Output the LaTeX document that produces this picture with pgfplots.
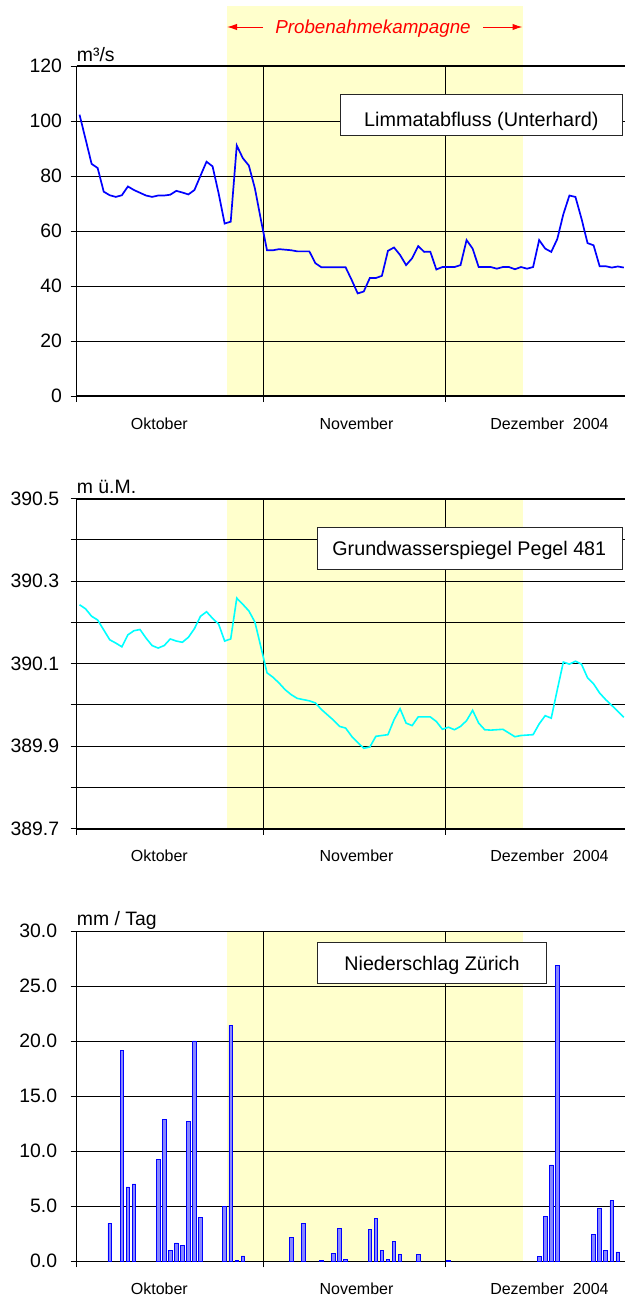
\documentclass[border=0pt]{standalone}
\usepackage{fontspec}
\setmainfont{Liberation Sans}
\usepackage{pgfplots}
\pgfplotsset{compat=1.18}
\usetikzlibrary{arrows.meta}
\definecolor{yel}{RGB}{255,255,204}
\definecolor{barfill}{RGB}{135,135,255}
\definecolor{lblue}{RGB}{0,0,255}
\definecolor{lcyan}{RGB}{0,255,255}

\pgfplotsset{
  panel/.style={
    scale only axis, width=278.2pt, height=165pt,
    xmin=0, xmax=92,
    xtick={0,31,61,92}, xticklabels={,,,},
    xmajorgrids, ymajorgrids,
    tick align=outside, major tick length=3pt,
    xtick pos=bottom, ytick pos=left,
    separate axis lines,
    x axis line style={line width=1pt},
    y axis line style={line width=0.5pt},
    major grid style={black, line width=0.5pt},
    tick style={black, line width=0.5pt},
    extra x ticks={13.7,46.3,78.2},
    extra x tick labels={Oktober,November,Dezember\ \ 2004},
    extra x tick style={major tick length=0pt, grid=none,
      xticklabel style={font=\fontsize{8}{9.6}\selectfont, yshift=-7.2pt}},
    yticklabel style={font=\fontsize{9.7}{11}\selectfont},
    /pgf/number format/assume math mode=true,
    set layers, clip=false,
  }
}

\begin{document}
\begin{tikzpicture}
% ---------- Panel 1 ----------
\begin{axis}[panel, at={(38.25pt,-198pt)}, anchor=south west,
  ymin=0, ymax=120, ytick={0,20,40,60,80,100,120},
  yticklabel style={xshift=-0.75pt}]
\addplot[on layer=axis background, fill=yel, draw=none] coordinates {(24.85,0) (24.85,141.9) (73.75,141.9) (73.75,0)};
\addplot[lblue, line width=0.85pt] coordinates {
(0.5,102.3) (1.5,93.4) (2.5,84.4) (3.5,82.9) (4.5,74.3) (5.5,73.0) (6.5,72.4) (7.5,73.0)
(8.5,76.2) (9.5,74.9) (10.5,73.9) (11.5,72.9) (12.5,72.4) (13.5,72.9) (14.5,72.9) (15.5,73.2)
(16.5,74.6) (17.5,74.0) (18.5,73.3) (19.5,74.9) (20.5,80.1) (21.5,85.2) (22.5,83.5) (23.5,73.7)
(24.5,62.7) (25.5,63.4) (26.5,91.1) (27.5,86.5) (28.5,83.8) (29.5,75.5) (30.5,64.0) (31.5,53.0)
(32.5,53.0) (33.5,53.4) (34.5,53.2) (35.5,53.0) (36.5,52.6) (37.5,52.6) (38.5,52.6) (39.5,48.3)
(40.5,46.8) (41.5,46.8) (42.5,46.8) (43.5,46.8) (44.5,46.8) (45.5,42.2) (46.5,37.3) (47.5,38.0)
(48.5,42.9) (49.5,42.9) (50.5,43.7) (51.5,52.8) (52.5,54.0) (53.5,51.3) (54.5,47.6) (55.5,50.1)
(56.5,54.5) (57.5,52.4) (58.5,52.5) (59.5,46.0) (60.5,46.9) (61.5,46.9) (62.5,46.9) (63.5,47.6)
(64.5,56.7) (65.5,53.6) (66.5,46.9) (67.5,46.9) (68.5,46.9) (69.5,46.3) (70.5,46.9) (71.5,46.9)
(72.5,46.1) (73.5,46.9) (74.5,46.3) (75.5,46.9) (76.5,56.7) (77.5,53.6) (78.5,52.4) (79.5,57.1)
(80.5,66.1) (81.5,72.9) (82.5,72.4) (83.5,64.5) (84.5,55.6) (85.5,54.8) (86.5,47.2) (87.5,47.2)
(88.5,46.7) (89.5,47.1) (90.5,46.7)
};
\node[anchor=base west, inner sep=0pt, yshift=2.2pt, font=\fontsize{9.7}{11}\selectfont] at (rel axis cs:0,1) {m³/s};
\end{axis}

% ---------- Panel 2 ----------
\begin{axis}[panel, at={(38.25pt,-414.35pt)}, anchor=south west,
  ymin=389.7, ymax=390.5,
  ytick={389.7,389.8,389.9,390.0,390.1,390.2,390.3,390.4,390.5},
  yticklabels={389.7,,389.9,,390.1,,390.3,,390.5},
  yticklabel style={xshift=-2.15pt}]
\addplot[on layer=axis background, fill=yel, draw=none] coordinates {(24.85,389.7) (24.85,390.5) (73.75,390.5) (73.75,389.7)};
\addplot[lcyan, line width=0.8pt] coordinates {
(0.5,390.243) (1.5,390.233) (2.5,390.215) (3.5,390.206) (4.5,390.182) (5.5,390.158) (6.5,390.150) (7.5,390.141)
(8.5,390.170) (9.5,390.180) (10.5,390.183) (11.5,390.162) (12.5,390.144) (13.5,390.138) (14.5,390.144) (15.5,390.160)
(16.5,390.155) (17.5,390.152) (18.5,390.164) (19.5,390.185) (20.5,390.215) (21.5,390.226) (22.5,390.210) (23.5,390.196)
(24.5,390.155) (25.5,390.160) (26.5,390.259) (27.5,390.244) (28.5,390.228) (29.5,390.201) (30.5,390.140) (31.5,390.078)
(32.5,390.067) (33.5,390.053) (34.5,390.037) (35.5,390.025) (36.5,390.016) (37.5,390.013) (38.5,390.010) (39.5,390.005)
(40.5,389.989) (41.5,389.976) (42.5,389.963) (43.5,389.948) (44.5,389.944) (45.5,389.924) (46.5,389.909) (47.5,389.895)
(48.5,389.898) (49.5,389.924) (50.5,389.926) (51.5,389.928) (52.5,389.964) (53.5,389.991) (54.5,389.956) (55.5,389.950)
(56.5,389.971) (57.5,389.971) (58.5,389.971) (59.5,389.960) (60.5,389.941) (61.5,389.946) (62.5,389.940) (63.5,389.948)
(64.5,389.962) (65.5,389.987) (66.5,389.956) (67.5,389.940) (68.5,389.939) (69.5,389.940) (70.5,389.941) (71.5,389.932)
(72.5,389.923) (73.5,389.926) (74.5,389.927) (75.5,389.928) (76.5,389.954) (77.5,389.974) (78.5,389.968) (79.5,390.037)
(80.5,390.104) (81.5,390.099) (82.5,390.106) (83.5,390.099) (84.5,390.066) (85.5,390.051) (86.5,390.029) (87.5,390.013)
(88.5,389.999) (89.5,389.985) (90.5,389.970)
};
\node[anchor=base west, inner sep=0pt, yshift=2.85pt, font=\fontsize{9.7}{11}\selectfont] at (rel axis cs:0,1) {m ü.M.};
\end{axis}

% ---------- Panel 3 ----------
\begin{axis}[panel, at={(38.25pt,-630.65pt)}, anchor=south west,
  ymin=0, ymax=30, ytick={0,5,10,15,20,25,30},
  x axis line style={line width=0.75pt},
  yticklabel style={xshift=-3.15pt, /pgf/number format/.cd, fixed, fixed zerofill, precision=1}]
\addplot[on layer=axis background, fill=yel, draw=none] coordinates {(24.85,0) (24.85,30) (73.75,30) (73.75,0)};
\addplot[ybar, bar width=1.8pt, bar shift=0pt, fill=barfill, draw=lblue, line width=0.4pt] coordinates {
(5.5,3.44) (7.5,19.2) (8.5,6.76) (9.5,7.03) (13.5,9.25) (14.5,12.88) (15.5,0.97) (16.5,1.67)
(17.5,1.43) (18.5,12.75) (19.5,20.03) (20.5,3.99) (24.5,4.99) (25.5,21.47) (26.5,0.09) (27.5,0.49)
(35.5,2.19) (37.5,3.47) (40.5,0.09) (42.5,0.73) (43.5,2.98) (44.5,0.21) (48.5,2.86) (49.5,3.92)
(50.5,0.97) (51.5,0.21) (52.5,1.79) (53.5,0.64) (56.5,0.64) (61.5,0.09) (76.5,0.46) (77.5,4.11)
(78.5,8.76) (79.5,26.86) (85.5,2.46) (86.5,4.77) (87.5,1.0) (88.5,5.50) (89.5,0.85)
};
\node[anchor=base west, inner sep=0pt, yshift=3.1pt, font=\fontsize{9.7}{11}\selectfont] at (rel axis cs:0,1) {mm / Tag};
\end{axis}

% ---------- Annotation boxes ----------
\draw[black!85, line width=0.5pt, fill=white] (170pt,-47.15pt) rectangle (311.25pt,-67.65pt);
\node[anchor=base, inner sep=0pt, font=\fontsize{9.9}{12}\selectfont] at (240.65pt,-63pt) {Limmatabfluss (Unterhard)};
\draw[black!85, line width=0.5pt, fill=white] (158.85pt,-263.85pt) rectangle (311.25pt,-284.5pt);
\node[anchor=base, inner sep=0pt, font=\fontsize{9.85}{12}\selectfont] at (234.65pt,-277.8pt) {Grundwasserspiegel Pegel 481};
\draw[black!85, line width=0.5pt, fill=white] (158.85pt,-471.15pt) rectangle (273.4pt,-491.65pt);
\node[anchor=base, inner sep=0pt, font=\fontsize{9.85}{12}\selectfont] at (216pt,-485.3pt) {Niederschlag Zürich};

% ---------- Campaign annotation ----------
\node[anchor=base, inner sep=0pt, text=red, font=\itshape\fontsize{9.4}{11}\selectfont] at (186.5pt,-16.85pt) {Probenahmekampagne};
\draw[red, line width=0.5pt, -{Latex[length=5pt,width=3.2pt]}] (131.5pt,-13.5pt) -- (113.5pt,-13.5pt);
\draw[red, line width=0.5pt, -{Latex[length=5pt,width=3.2pt]}] (241.5pt,-13.5pt) -- (261.25pt,-13.5pt);

\pgfresetboundingbox
\useasboundingbox (0pt,0pt) rectangle (312.5pt,-648pt);
\end{tikzpicture}
\end{document}
